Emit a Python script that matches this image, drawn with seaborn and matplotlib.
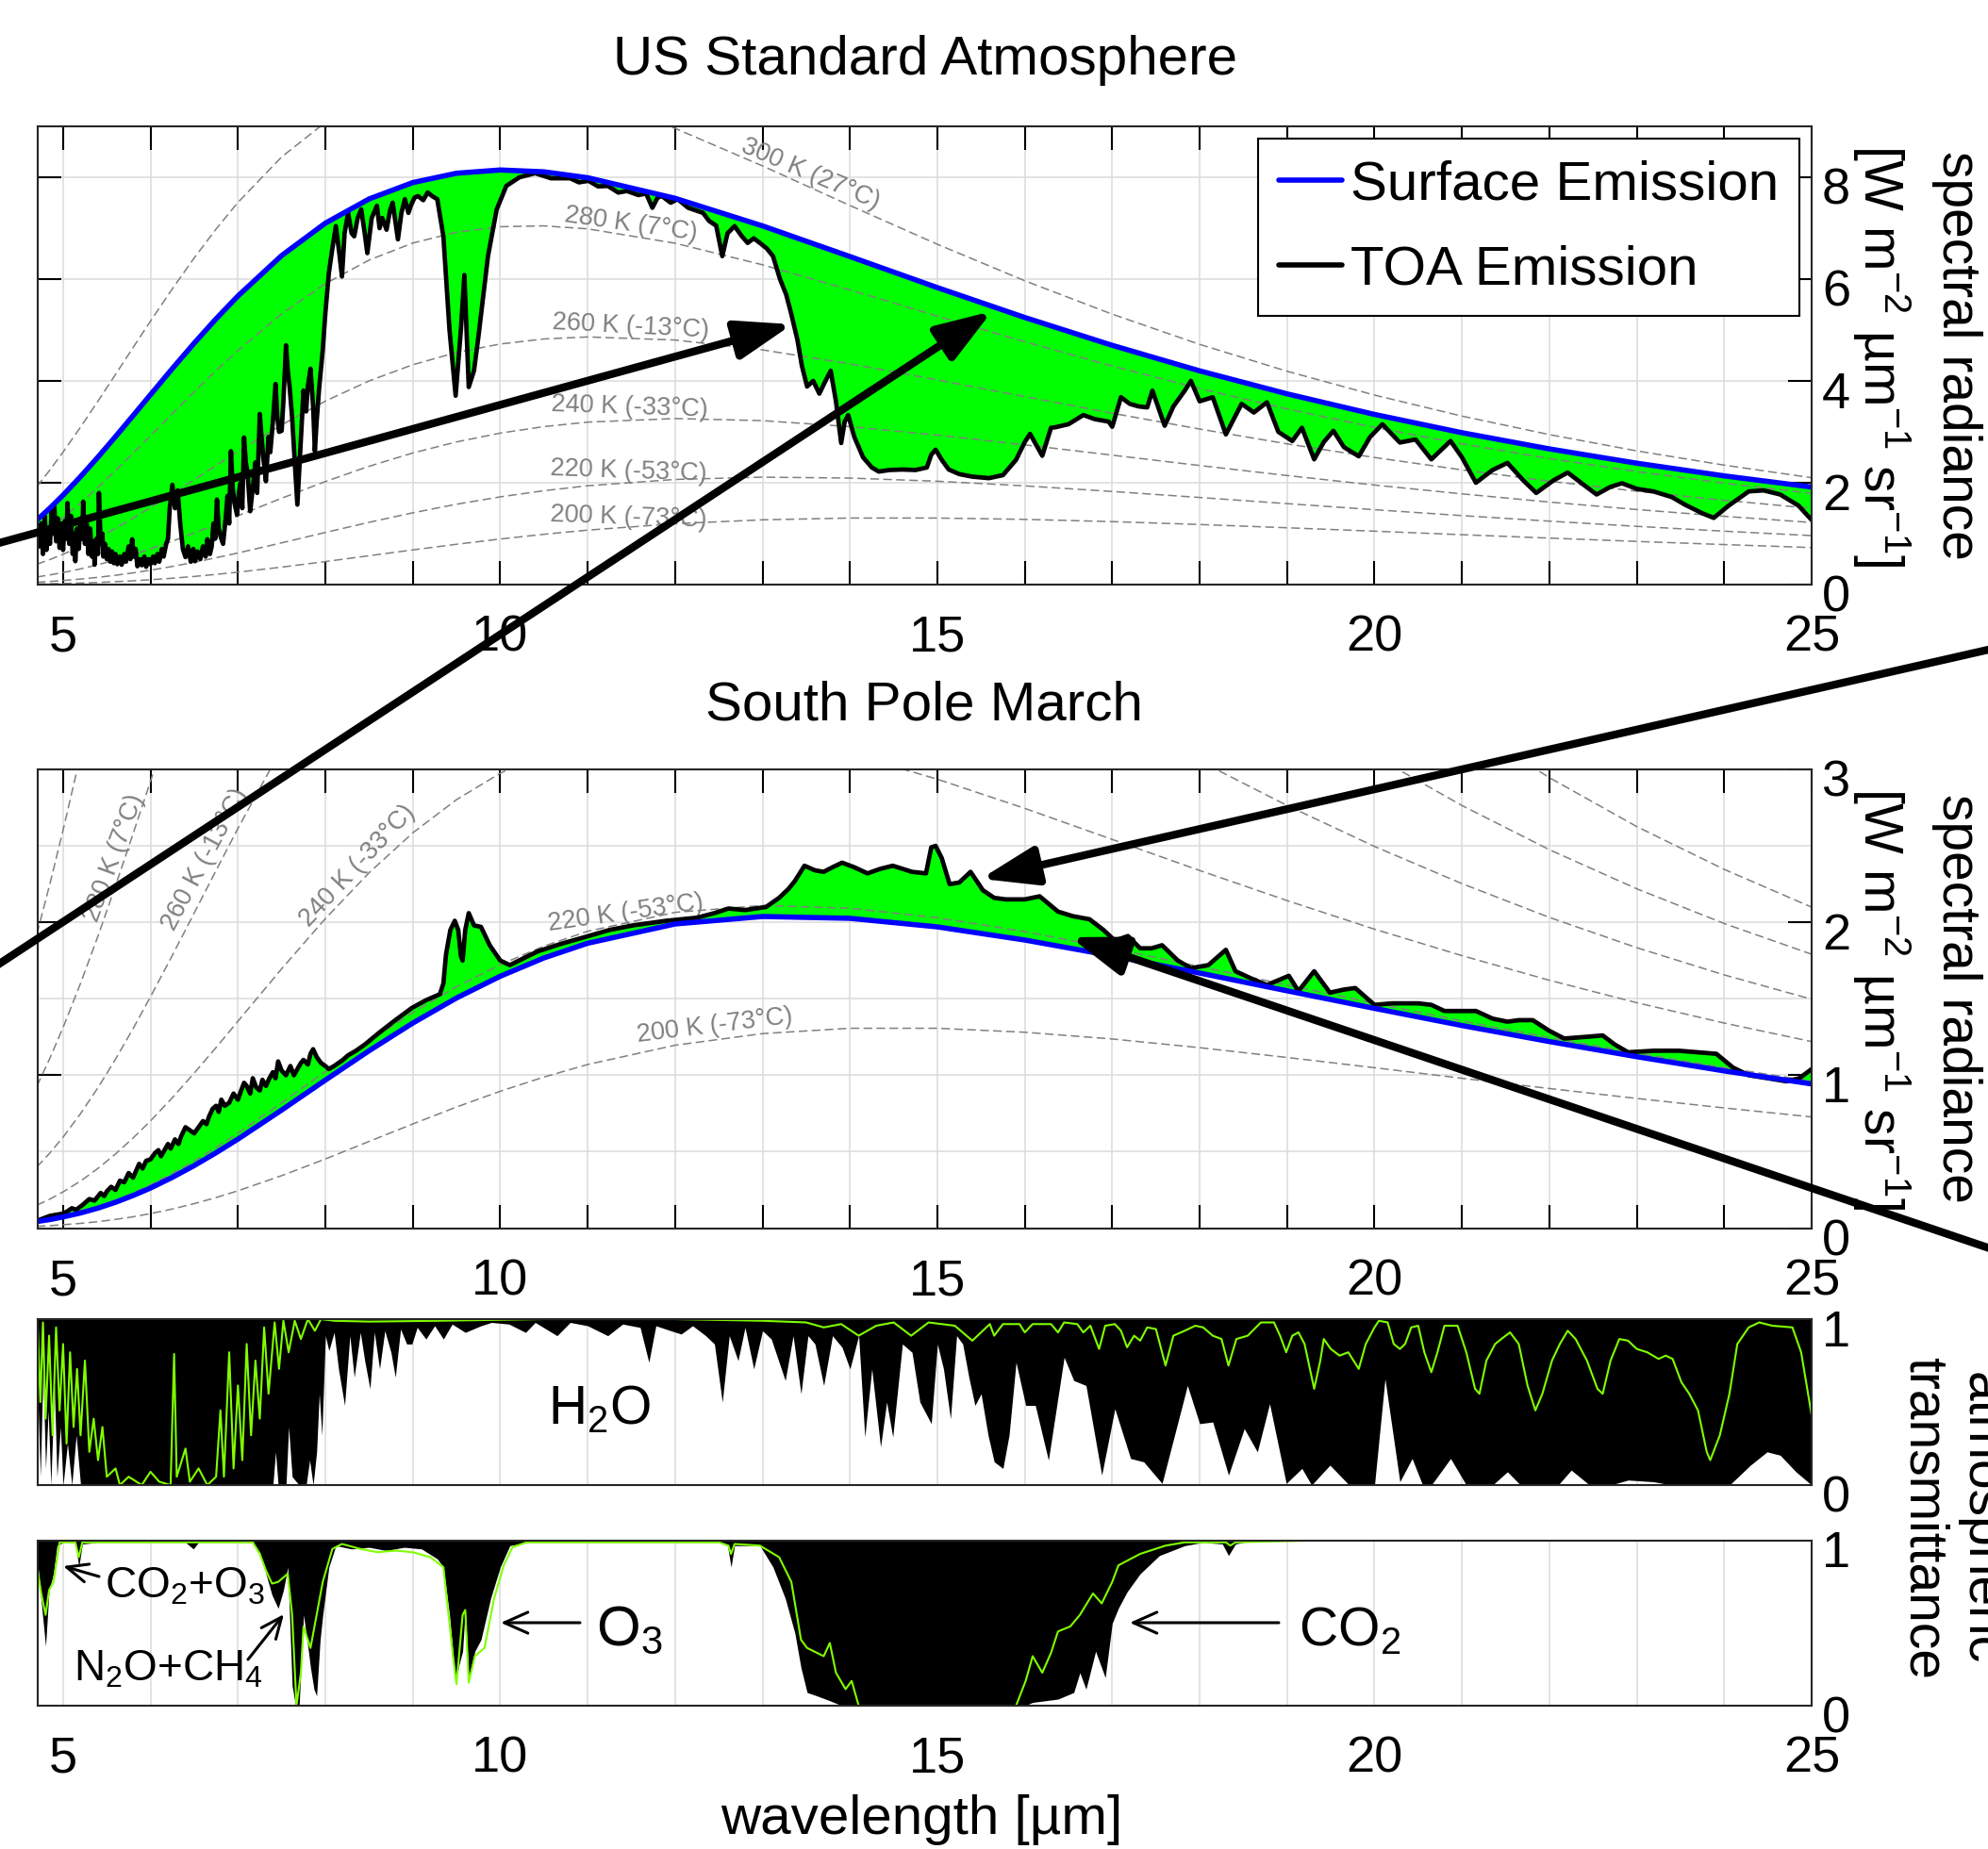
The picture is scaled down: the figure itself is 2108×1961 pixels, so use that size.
import numpy as np
import matplotlib
matplotlib.use("Agg")
import matplotlib.pyplot as plt
import seaborn as sns
from matplotlib.patches import FancyArrowPatch
from matplotlib.lines import Line2D
from matplotlib.ticker import MultipleLocator
from matplotlib.transforms import ScaledTranslation

# ---------------- data ----------------
bb_wavelength = [4.7, 4.85, 5.0, 5.2, 5.4, 5.6, 5.8, 6.0, 6.25, 6.5, 6.75, 7.0, 7.5, 8.0, 8.5, 9.0, 9.5, 10, 10.5, 11,
                 12, 13, 14, 15, 16, 17, 18, 19, 20, 21, 22, 23, 24, 25]
bb_200K = [0.012, 0.016, 0.022, 0.031, 0.042, 0.057, 0.074, 0.095, 0.125, 0.160, 0.200, 0.244, 0.343, 0.452, 0.567, 0.681, 0.792, 0.895, 0.988, 1.070,
           1.196, 1.272, 1.307, 1.307, 1.281, 1.237, 1.180, 1.116, 1.049, 0.980, 0.913, 0.848, 0.786, 0.727]
bb_220K = [0.047, 0.062, 0.080, 0.108, 0.143, 0.183, 0.230, 0.283, 0.357, 0.438, 0.527, 0.621, 0.820, 1.024, 1.223, 1.410, 1.578, 1.723, 1.844, 1.941,
           2.065, 2.110, 2.092, 2.030, 1.939, 1.829, 1.711, 1.590, 1.471, 1.355, 1.246, 1.144, 1.049, 0.962]
bb_240K = [0.150, 0.190, 0.237, 0.308, 0.391, 0.485, 0.589, 0.701, 0.853, 1.014, 1.181, 1.353, 1.696, 2.024, 2.324, 2.585, 2.802, 2.975, 3.103, 3.191,
           3.261, 3.220, 3.102, 2.936, 2.745, 2.542, 2.339, 2.142, 1.955, 1.782, 1.621, 1.474, 1.341, 1.220]
bb_260K = [0.400, 0.492, 0.595, 0.749, 0.919, 1.105, 1.304, 1.513, 1.784, 2.061, 2.339, 2.614, 3.137, 3.604, 4.000, 4.318, 4.559, 4.725, 4.824, 4.864,
           4.804, 4.610, 4.336, 4.020, 3.691, 3.366, 3.055, 2.764, 2.496, 2.253, 2.032, 1.834, 1.656, 1.497]
bb_280K = [0.928, 1.112, 1.312, 1.601, 1.911, 2.239, 2.578, 2.923, 3.358, 3.787, 4.203, 4.599, 5.316, 5.911, 6.374, 6.708, 6.921, 7.029, 7.045, 6.987,
           6.705, 6.281, 5.787, 5.273, 4.769, 4.292, 3.851, 3.449, 3.087, 2.764, 2.475, 2.219, 1.992, 1.791]
bb_300K = [1.923, 2.253, 2.603, 3.094, 3.605, 4.128, 4.654, 5.175, 5.810, 6.416, 6.983, 7.506, 8.399, 9.078, 9.549, 9.830, 9.946, 9.924, 9.792, 9.573,
           8.961, 8.223, 7.446, 6.684, 5.967, 5.311, 4.718, 4.190, 3.722, 3.309, 2.946, 2.626, 2.346, 2.099]
surface_us = [1.266, 1.503, 1.757, 2.121, 2.506, 2.907, 3.317, 3.730, 4.243, 4.742, 5.220, 5.668, 6.462, 7.099, 7.574, 7.896, 8.079, 8.143, 8.107, 7.991,
              7.587, 7.045, 6.443, 5.833, 5.246, 4.699, 4.198, 3.746, 3.342, 2.983, 2.665, 2.384, 2.135, 1.916]
surface_sp = [0.043, 0.056, 0.073, 0.099, 0.131, 0.169, 0.213, 0.262, 0.332, 0.409, 0.493, 0.582, 0.772, 0.968, 1.160, 1.341, 1.505, 1.647, 1.767, 1.863,
              1.989, 2.038, 2.026, 1.970, 1.884, 1.781, 1.668, 1.552, 1.437, 1.325, 1.220, 1.121, 1.028, 0.943]
isotherms = {"200 K (-73°C)": bb_200K, "220 K (-53°C)": bb_220K, "240 K (-33°C)": bb_240K,
             "260 K (-13°C)": bb_260K, "280 K (7°C)": bb_280K, "300 K (27°C)": bb_300K}

toa_us_wl = [4.71, 4.73, 4.75, 4.77, 4.79, 4.81, 4.83, 4.85, 4.87, 4.89, 4.9, 4.92, 4.94, 4.96, 4.98, 5.0, 5.02, 5.04, 5.05, 5.07,
             5.09, 5.11, 5.13, 5.14, 5.16, 5.18, 5.2, 5.22, 5.23, 5.25, 5.27, 5.29, 5.31, 5.33, 5.35, 5.36, 5.38, 5.4, 5.41, 5.43,
             5.45, 5.46, 5.48, 5.5, 5.52, 5.54, 5.56, 5.58, 5.6, 5.62, 5.65, 5.67, 5.7, 5.72, 5.75, 5.77, 5.79, 5.81, 5.83, 5.85,
             5.88, 5.9, 5.93, 5.95, 5.98, 6.0, 6.03, 6.05, 6.08, 6.1, 6.13, 6.15, 6.18, 6.2, 6.22, 6.25, 6.28, 6.31, 6.34, 6.37,
             6.4, 6.43, 6.46, 6.49, 6.51, 6.54, 6.57, 6.6, 6.63, 6.65, 6.68, 6.7, 6.72, 6.74, 6.76, 6.78, 6.8, 6.83, 6.86, 6.88,
             6.9, 6.92, 6.94, 6.96, 6.99, 7.01, 7.03, 7.05, 7.07, 7.09, 7.11, 7.14, 7.17, 7.2, 7.22, 7.25, 7.27, 7.29, 7.32, 7.35,
             7.37, 7.4, 7.43, 7.45, 7.47, 7.5, 7.52, 7.55, 7.57, 7.59, 7.62, 7.65, 7.68, 7.7, 7.72, 7.75, 7.78, 7.8, 7.83, 7.86,
             7.88, 7.9, 7.93, 7.97, 8.0, 8.04, 8.08, 8.12, 8.16, 8.19, 8.22, 8.26, 8.3, 8.33, 8.37, 8.41, 8.45, 8.48, 8.53, 8.59,
             8.62, 8.65, 8.7, 8.74, 8.77, 8.83, 8.87, 8.91, 8.95, 8.98, 9.02, 9.06, 9.12, 9.17, 9.23, 9.28, 9.35, 9.42, 9.49, 9.55,
             9.59, 9.64, 9.7, 9.75, 9.86, 9.96, 10.07, 10.22, 10.4, 10.58, 10.8, 10.9, 11.01, 11.12, 11.23, 11.35, 11.45, 11.58, 11.67, 11.74,
             11.8, 11.85, 11.95, 12.03, 12.15, 12.25, 12.32, 12.39, 12.47, 12.54, 12.6, 12.68, 12.76, 12.83, 12.9, 12.97, 13.05, 13.12, 13.2, 13.27,
             13.33, 13.4, 13.45, 13.51, 13.58, 13.65, 13.72, 13.78, 13.84, 13.9, 13.94, 13.98, 14.05, 14.15, 14.25, 14.33, 14.45, 14.6, 14.75, 14.88,
             14.93, 14.98, 15.05, 15.13, 15.25, 15.4, 15.59, 15.75, 15.9, 16.0, 16.06, 16.2, 16.3, 16.35, 16.5, 16.67, 16.8, 16.96, 17.0, 17.1,
             17.2, 17.3, 17.4, 17.46, 17.6, 17.7, 17.83, 17.9, 18.0, 18.15, 18.3, 18.48, 18.62, 18.77, 18.9, 19.06, 19.17, 19.31, 19.42, 19.53,
             19.65, 19.82, 19.95, 20.09, 20.29, 20.47, 20.65, 20.87, 21.0, 21.16, 21.35, 21.52, 21.7, 21.85, 22.05, 22.21, 22.4, 22.54, 22.7, 22.83,
             23.0, 23.19, 23.4, 23.55, 23.75, 23.88, 24.05, 24.28, 24.45, 24.64, 24.85, 25.0]
toa_us = [1.11, 0.75, 1.2, 0.6, 1.35, 0.68, 1.1, 0.8, 1.45, 1.0, 1.53, 0.85, 1.3, 0.72, 1.2, 0.68, 1.25, 0.9, 1.6, 0.8,
          1.35, 0.6, 1.0, 0.46, 1.1, 0.7, 1.3, 0.9, 1.63, 0.8, 1.2, 0.6, 1.1, 0.55, 0.85, 0.39, 0.9, 0.6, 1.8, 0.8,
          1.0, 0.55, 0.8, 0.5, 0.7, 0.45, 0.65, 0.42, 0.6, 0.4, 0.55, 0.39, 0.6, 0.45, 0.75, 0.5, 0.89, 0.55, 0.7, 0.36,
          0.5, 0.38, 0.55, 0.35, 0.5, 0.4, 0.55, 0.42, 0.6, 0.45, 0.7, 0.55, 0.8, 0.9, 1.5, 1.96, 1.5, 1.85, 1.2, 0.7,
          0.54, 0.75, 0.45, 0.7, 0.46, 0.65, 0.5, 0.75, 0.55, 0.89, 0.6, 0.75, 1.2, 0.9, 1.67, 1.1, 0.95, 0.8, 1.3, 1.74,
          1.2, 2.62, 1.9, 1.6, 1.37, 1.8, 2.0, 1.5, 2.89, 2.4, 2.2, 1.44, 1.9, 2.4, 1.8, 3.35, 2.9, 2.5, 2.03, 2.9,
          2.6, 3.2, 3.94, 3.3, 3.0, 3.02, 3.6, 4.7, 4.2, 3.9, 3.28, 2.4, 1.57, 2.2, 2.8, 3.81, 3.4, 3.9, 4.24, 3.5,
          2.62, 3.2, 3.88, 4.6, 5.33, 6.12, 6.6, 7.04, 6.5, 6.05, 6.9, 7.3, 6.9, 6.84, 7.2, 7.37, 6.9, 6.51, 7.2, 7.44,
          7.0, 7.2, 6.97, 7.35, 7.5, 6.78, 7.3, 7.57, 7.3, 7.45, 7.6, 7.63, 7.55, 7.7, 7.62, 7.57, 6.84, 5.0, 3.71, 5.0,
          6.08, 3.88, 4.2, 4.86, 6.45, 7.37, 7.83, 8.0, 8.08, 7.98, 7.98, 7.9, 7.93, 7.82, 7.83, 7.7, 7.73, 7.65, 7.68, 7.4,
          7.6, 7.63, 7.5, 7.57, 7.4, 7.34, 7.3, 7.14, 7.05, 6.45, 6.9, 7.04, 6.85, 6.71, 6.8, 6.71, 6.6, 6.45, 6.0, 5.7,
          5.31, 4.8, 4.3, 3.89, 4.0, 3.75, 4.0, 4.2, 3.6, 2.78, 3.2, 3.33, 2.9, 2.5, 2.3, 2.22, 2.25, 2.26, 2.25, 2.3,
          2.55, 2.65, 2.45, 2.26, 2.17, 2.12, 2.09, 2.15, 2.45, 2.8, 2.96, 2.53, 3.08, 3.09, 3.15, 3.33, 3.25, 3.2, 3.1, 3.68,
          3.55, 3.5, 3.48, 3.81, 3.12, 3.5, 3.81, 4.0, 3.6, 3.68, 2.95, 3.55, 3.38, 3.58, 3.0, 2.82, 3.08, 2.46, 2.8, 3.02,
          2.7, 2.52, 2.9, 3.15, 2.79, 2.85, 2.46, 2.82, 2.5, 2.0, 2.25, 2.39, 2.05, 1.8, 2.05, 2.2, 1.95, 1.77, 1.92, 1.99,
          1.88, 1.83, 1.72, 1.57, 1.4, 1.31, 1.55, 1.83, 1.85, 1.77, 1.55, 1.27]

toa_sp_wl = [4.71, 4.85, 5.0, 5.05, 5.1, 5.15, 5.22, 5.26, 5.3, 5.36, 5.43, 5.47, 5.5, 5.55, 5.6, 5.65, 5.7, 5.75, 5.8, 5.87,
             5.91, 5.95, 6.0, 6.05, 6.09, 6.12, 6.15, 6.2, 6.23, 6.28, 6.32, 6.35, 6.4, 6.45, 6.5, 6.55, 6.6, 6.64, 6.67, 6.71,
             6.75, 6.78, 6.81, 6.85, 6.9, 6.95, 7.0, 7.03, 7.07, 7.1, 7.14, 7.17, 7.21, 7.25, 7.28, 7.32, 7.36, 7.4, 7.43, 7.46,
             7.5, 7.55, 7.6, 7.64, 7.68, 7.72, 7.75, 7.8, 7.83, 7.86, 7.9, 7.95, 8.0, 8.04, 8.1, 8.15, 8.2, 8.26, 8.35, 8.45,
             8.62, 8.8, 8.99, 9.15, 9.31, 9.35, 9.38, 9.43, 9.48, 9.52, 9.55, 9.57, 9.6, 9.64, 9.7, 9.78, 9.88, 10.0, 10.11, 10.25,
             10.43, 10.7, 11.01, 11.25, 11.52, 11.9, 12.25, 12.45, 12.61, 12.8, 13.04, 13.19, 13.3, 13.37, 13.48, 13.6, 13.7, 13.8, 13.91, 14.05,
             14.2, 14.35, 14.49, 14.6, 14.71, 14.87, 14.93, 14.98, 15.05, 15.14, 15.25, 15.38, 15.52, 15.65, 15.78, 16.0, 16.17, 16.38, 16.55, 16.74,
             16.9, 17.03, 17.18, 17.32, 17.45, 17.57, 17.75, 17.9, 18.1, 18.3, 18.41, 18.6, 18.77, 19.02, 19.13, 19.31, 19.49, 19.65, 19.78, 20.0,
             20.2, 20.36, 20.5, 20.65, 20.8, 21.0, 21.16, 21.35, 21.52, 21.65, 21.81, 22.0, 22.17, 22.4, 22.61, 22.75, 22.9, 23.2, 23.48, 23.7,
             23.91, 24.1, 24.28, 24.5, 24.71, 24.86, 25.0]
toa_sp = [0.05, 0.08, 0.095, 0.11, 0.13, 0.12, 0.15, 0.17, 0.19, 0.18, 0.23, 0.21, 0.24, 0.27, 0.25, 0.31, 0.3, 0.36, 0.33, 0.42,
          0.39, 0.44, 0.45, 0.49, 0.51, 0.47, 0.5, 0.55, 0.52, 0.58, 0.55, 0.6, 0.66, 0.64, 0.62, 0.66, 0.7, 0.68, 0.73, 0.78,
          0.8, 0.76, 0.84, 0.8, 0.82, 0.88, 0.84, 0.89, 0.95, 0.93, 0.88, 0.98, 0.92, 0.9, 0.97, 0.93, 0.98, 1.02, 0.98, 1.09,
          1.03, 1.0, 1.06, 1.0, 1.04, 1.08, 1.1, 1.07, 1.14, 1.17, 1.12, 1.08, 1.06, 1.04, 1.06, 1.08, 1.1, 1.13, 1.16, 1.2,
          1.28, 1.36, 1.44, 1.49, 1.53, 1.6, 1.79, 1.95, 2.01, 1.95, 1.78, 1.75, 1.95, 2.06, 1.98, 1.97, 1.85, 1.75, 1.72, 1.76,
          1.81, 1.86, 1.91, 1.95, 1.98, 2.01, 2.03, 2.06, 2.09, 2.08, 2.1, 2.16, 2.22, 2.27, 2.37, 2.34, 2.33, 2.36, 2.39, 2.36,
          2.32, 2.35, 2.37, 2.35, 2.33, 2.32, 2.49, 2.5, 2.42, 2.25, 2.26, 2.33, 2.21, 2.16, 2.15, 2.15, 2.17, 2.07, 2.04, 2.02,
          1.95, 1.88, 1.91, 1.83, 1.83, 1.85, 1.75, 1.7, 1.72, 1.82, 1.68, 1.63, 1.59, 1.65, 1.55, 1.68, 1.54, 1.56, 1.57, 1.46,
          1.47, 1.47, 1.47, 1.46, 1.42, 1.42, 1.42, 1.37, 1.35, 1.36, 1.36, 1.29, 1.24, 1.25, 1.26, 1.2, 1.15, 1.16, 1.16, 1.15,
          1.14, 1.05, 1.0, 0.98, 0.96, 0.98, 1.04]

h2o_us_wl = [4.71, 4.74, 4.77, 4.8, 4.83, 4.86, 4.9, 4.93, 4.97, 5.0, 5.05, 5.1, 5.15, 5.2, 5.3, 7.4, 7.43, 7.46, 7.55, 7.58,
             7.62, 7.7, 7.78, 7.82, 7.86, 7.9, 7.93, 7.96, 8.0, 8.04, 8.1, 8.15, 8.22, 8.28, 8.33, 8.4, 8.45, 8.51, 8.56, 8.62,
             8.68, 8.75, 8.8, 8.86, 8.93, 8.99, 9.05, 9.15, 9.25, 9.35, 9.45, 9.6, 9.78, 9.9, 10.1, 10.29, 10.4, 10.65, 10.8, 11.0,
             11.23, 11.4, 11.6, 11.7, 11.78, 11.95, 12.07, 12.2, 12.35, 12.45, 12.54, 12.62, 12.72, 12.8, 12.9, 13.0, 13.1, 13.26, 13.35, 13.44,
             13.52, 13.6, 13.7, 13.8, 13.91, 14.0, 14.1, 14.17, 14.25, 14.35, 14.42, 14.49, 14.6, 14.71, 14.8, 14.93, 15.0, 15.07, 15.15, 15.22,
             15.29, 15.36, 15.43, 15.5, 15.58, 15.65, 15.75, 15.82, 15.9, 16.01, 16.12, 16.27, 16.45, 16.56, 16.7, 16.88, 17.03, 17.21, 17.36, 17.57,
             17.86, 18.0, 18.15, 18.33, 18.51, 18.66, 18.8, 18.99, 19.17, 19.28, 19.49, 19.71, 20.0, 20.12, 20.29, 20.43, 20.55, 20.65, 20.87, 21.05,
             21.35, 21.52, 21.67, 22.1, 22.25, 22.46, 22.7, 22.9, 23.19, 23.4, 24.06, 24.3, 24.49, 24.64, 24.82, 25.0]
h2o_us = [0.55, 0.05, 0.7, 0.1, 0.45, 0.0, 0.6, 0.05, 0.35, 0.0, 0.25, 0.0, 0.3, 0.0, 0.0, 0.0, 0.2, 0.0, 0.0, 0.35,
          0.05, 0.0, 0.0, 0.15, 0.0, 0.2, 0.55, 0.3, 0.9, 0.81, 0.92, 0.7, 0.48, 0.9, 0.65, 0.92, 0.75, 0.58, 0.92, 0.7,
          0.93, 0.8, 0.65, 0.94, 0.85, 0.85, 0.95, 0.88, 0.96, 0.88, 0.97, 0.92, 0.96, 0.98, 0.97, 0.92, 0.98, 0.9, 0.98, 0.96,
          0.9, 0.97, 0.95, 0.74, 0.96, 0.93, 0.91, 0.96, 0.9, 0.85, 0.5, 0.9, 0.75, 0.95, 0.7, 0.93, 0.88, 0.63, 0.9, 0.55,
          0.9, 0.85, 0.6, 0.9, 0.83, 0.7, 0.9, 0.29, 0.7, 0.23, 0.5, 0.29, 0.85, 0.8, 0.5, 0.37, 0.85, 0.7, 0.4, 0.9,
          0.85, 0.65, 0.48, 0.55, 0.3, 0.14, 0.1, 0.3, 0.74, 0.48, 0.48, 0.15, 0.77, 0.63, 0.6, 0.06, 0.46, 0.16, 0.14, 0.01,
          0.6, 0.37, 0.38, 0.06, 0.34, 0.2, 0.49, 0.01, 0.1, 0.0, 0.12, 0.0, 0.0, 0.64, 0.02, 0.16, 0.0, 0.0, 0.16, 0.0,
          0.0, 0.08, 0.0, 0.0, 0.09, 0.0, 0.0, 0.03, 0.02, 0.0, 0.0, 0.12, 0.2, 0.18, 0.08, 0.0]

h2o_sp_wl = [4.71, 4.74, 4.77, 4.8, 4.84, 4.88, 4.92, 4.96, 5.0, 5.04, 5.08, 5.12, 5.16, 5.2, 5.25, 5.3, 5.35, 5.4, 5.45, 5.5,
             5.6, 5.65, 5.75, 5.9, 6.0, 6.1, 6.23, 6.27, 6.3, 6.4, 6.45, 6.55, 6.65, 6.75, 6.8, 6.84, 6.9, 6.95, 7.0, 7.05,
             7.1, 7.15, 7.2, 7.25, 7.3, 7.35, 7.42, 7.47, 7.52, 7.58, 7.65, 7.72, 7.8, 7.88, 7.95, 8.1, 8.5, 9.3, 10.5, 12.0,
             13.0, 13.5, 13.7, 13.9, 14.1, 14.3, 14.5, 14.7, 14.9, 15.2, 15.4, 15.5, 15.6, 15.65, 15.75, 15.94, 16.0, 16.09, 16.3, 16.38,
             16.45, 16.6, 16.67, 16.75, 16.85, 16.92, 17.03, 17.1, 17.17, 17.25, 17.32, 17.4, 17.5, 17.61, 17.7, 17.83, 17.95, 18.04, 18.15, 18.25,
             18.33, 18.42, 18.55, 18.7, 18.85, 18.92, 18.99, 19.06, 19.13, 19.2, 19.31, 19.38, 19.42, 19.5, 19.6, 19.7, 19.82, 19.9, 20.0, 20.05,
             20.15, 20.22, 20.29, 20.35, 20.42, 20.5, 20.57, 20.65, 20.72, 20.8, 20.95, 21.05, 21.15, 21.2, 21.28, 21.38, 21.45, 21.55, 21.65, 21.75,
             21.84, 21.92, 22.03, 22.12, 22.21, 22.3, 22.43, 22.55, 22.61, 22.7, 22.8, 22.9, 23.0, 23.12, 23.25, 23.33, 23.41, 23.51, 23.6, 23.7,
             23.8, 23.84, 23.95, 24.06, 24.15, 24.28, 24.4, 24.55, 24.78, 24.88, 25.0]
h2o_sp = [0.95, 0.5, 0.98, 0.4, 0.9, 0.3, 0.95, 0.45, 0.85, 0.25, 0.8, 0.35, 0.7, 0.3, 0.75, 0.2, 0.4, 0.15, 0.35, 0.05,
          0.1, 0.0, 0.05, 0.0, 0.08, 0.02, 0.0, 0.79, 0.05, 0.22, 0.02, 0.1, 0.0, 0.05, 0.45, 0.05, 0.8, 0.1, 0.6, 0.15,
          0.85, 0.3, 0.75, 0.4, 0.95, 0.55, 0.98, 0.7, 0.99, 0.8, 0.99, 0.88, 1.0, 0.93, 1.0, 0.99, 0.985, 0.99, 1.0, 1.0,
          0.99, 0.98, 0.95, 0.97, 0.9, 0.96, 0.98, 0.9, 0.98, 0.96, 0.87, 0.92, 0.97, 0.9, 0.97, 0.97, 0.92, 0.97, 0.97, 0.92,
          0.98, 0.97, 0.92, 0.96, 0.82, 0.96, 0.97, 0.93, 0.83, 0.9, 0.87, 0.95, 0.94, 0.72, 0.9, 0.93, 0.96, 0.95, 0.9, 0.88,
          0.72, 0.88, 0.9, 0.98, 0.98, 0.9, 0.8, 0.9, 0.92, 0.85, 0.58, 0.75, 0.88, 0.82, 0.78, 0.8, 0.7, 0.85, 0.95, 0.99,
          0.98, 0.85, 0.82, 0.85, 0.95, 0.96, 0.8, 0.68, 0.8, 0.96, 0.96, 0.8, 0.58, 0.55, 0.75, 0.85, 0.88, 0.92, 0.85, 0.6,
          0.45, 0.55, 0.75, 0.85, 0.93, 0.88, 0.75, 0.58, 0.55, 0.75, 0.88, 0.87, 0.82, 0.8, 0.76, 0.78, 0.76, 0.62, 0.55, 0.45,
          0.2, 0.15, 0.3, 0.55, 0.85, 0.95, 0.98, 0.96, 0.95, 0.8, 0.42]

gas_us_wl = [4.71, 4.75, 4.8, 4.84, 4.89, 4.93, 5.0, 5.14, 5.18, 5.22, 5.4, 6.4, 6.49, 6.55, 7.17, 7.25, 7.32, 7.39, 7.46, 7.52,
             7.57, 7.62, 7.66, 7.7, 7.75, 7.79, 7.83, 7.87, 7.9, 7.94, 7.97, 8.04, 8.12, 8.3, 8.5, 8.7, 8.9, 9.1, 9.28, 9.35,
             9.42, 9.49, 9.53, 9.57, 9.6, 9.64, 9.71, 9.78, 9.89, 10.0, 10.11, 10.3, 12.5, 12.6, 12.64, 12.68, 12.97, 13.12, 13.26, 13.37,
             13.44, 13.51, 13.62, 13.77, 13.91, 16.0, 16.09, 16.38, 16.56, 16.63, 16.7, 16.81, 16.92, 17.0, 17.07, 17.17, 17.32, 17.54, 17.83, 18.04,
             18.26, 18.33, 18.41, 18.6, 25.0]
gas_us = [0.86, 0.63, 0.36, 0.7, 0.8, 0.97, 0.99, 0.99, 0.84, 0.98, 0.99, 0.99, 0.95, 0.99, 0.99, 0.93, 0.8, 0.67, 0.59, 0.7,
          0.84, 0.12, 0.0, 0.0, 0.55, 0.4, 0.23, 0.1, 0.06, 0.4, 0.55, 0.84, 0.97, 0.95, 0.96, 0.94, 0.96, 0.95, 0.89, 0.84,
          0.55, 0.14, 0.25, 0.33, 0.59, 0.17, 0.33, 0.4, 0.65, 0.84, 0.97, 0.99, 0.99, 0.97, 0.84, 0.97, 0.97, 0.84, 0.65, 0.44,
          0.23, 0.08, 0.06, 0.03, 0.0, 0.0, 0.02, 0.04, 0.08, 0.2, 0.1, 0.33, 0.17, 0.5, 0.59, 0.69, 0.8, 0.91, 0.97, 0.99,
          0.98, 0.91, 0.98, 1.0, 1.0]

gas_sp_wl = [4.71, 4.75, 4.8, 4.84, 4.89, 4.96, 5.14, 5.18, 5.22, 7.17, 7.25, 7.32, 7.39, 7.46, 7.57, 7.62, 7.67, 7.72, 7.75, 7.83,
             7.9, 7.97, 8.08, 8.19, 8.4, 8.6, 8.8, 9.0, 9.2, 9.35, 9.46, 9.5, 9.57, 9.6, 9.64, 9.71, 9.82, 9.93, 10.04, 10.14,
             10.3, 12.5, 12.61, 12.64, 12.68, 12.97, 13.19, 13.33, 13.44, 13.51, 13.7, 13.77, 13.84, 13.95, 14.02, 14.1, 15.9, 16.01, 16.09, 16.2,
             16.3, 16.38, 16.52, 16.63, 16.78, 16.88, 17.0, 17.07, 17.14, 17.32, 17.61, 17.83, 18.3, 18.35, 18.41, 19.2]
gas_sp = [0.82, 0.68, 0.55, 0.7, 0.75, 0.99, 0.99, 0.9, 0.99, 0.99, 0.92, 0.82, 0.74, 0.75, 0.8, 0.55, 0.0, 0.2, 0.48, 0.35,
          0.55, 0.75, 0.95, 0.98, 0.95, 0.93, 0.94, 0.93, 0.9, 0.84, 0.3, 0.13, 0.55, 0.58, 0.14, 0.3, 0.35, 0.65, 0.85, 0.96,
          0.99, 0.99, 0.97, 0.92, 0.98, 0.97, 0.9, 0.75, 0.4, 0.35, 0.3, 0.38, 0.2, 0.1, 0.15, 0.0, 0.0, 0.15, 0.3, 0.2,
          0.32, 0.45, 0.48, 0.55, 0.68, 0.62, 0.75, 0.85, 0.87, 0.92, 0.97, 0.99, 0.99, 0.97, 0.99, 1.0]

x_ticks = list(range(5, 26))
x_ticklabels = [str(v) if v % 5 == 0 else "" for v in x_ticks]

# ---------------- style ----------------
sns.set_theme(style="white", rc={"text.color": "black", "axes.labelcolor": "black"})
plt.rcParams["font.family"] = ["Liberation Sans", "DejaVu Sans"]
plt.rcParams["mathtext.fontset"] = "custom"
plt.rcParams["mathtext.rm"] = "Liberation Sans"
plt.rcParams["mathtext.it"] = "Liberation Sans:italic"
plt.rcParams["mathtext.bf"] = "Liberation Sans:bold"

W, H = 2108, 1961
fig = plt.figure(figsize=(W / 100, H / 100), dpi=100)
fig.patch.set_facecolor("white")


def box(top, bottom, left=40, right=1921):
    return [left / W, 1 - bottom / H, (right - left) / W, (bottom - top) / H]


ax1 = fig.add_axes(box(134, 620))
ax2 = fig.add_axes(box(816, 1302.5))
ax3 = fig.add_axes(box(1399, 1575))
ax4 = fig.add_axes(box(1634, 1809))

GREEN = "#00ff00"
LIME = "#80ff00"
GRAY = "0.5"


def common(ax, ymax, yticks, ticklen, xlabels):
    ax.set_xlim(4.71, 25)
    ax.set_ylim(0, ymax)
    ax.set_xticks(x_ticks)
    ax.set_xticklabels(x_ticklabels if xlabels else [""] * len(x_ticks))
    ax.set_yticks(yticks)
    ax.set_yticklabels([str(v) for v in yticks])
    ax.tick_params(axis="x", which="major", direction="in", length=ticklen, width=1.5, top=True, bottom=True,
                   labelsize=39, pad=23, colors="black")
    ax.tick_params(axis="y", which="major", direction="in", length=ticklen, width=1.5, left=True, right=True,
                   labelleft=False, labelright=True, labelsize=39, pad=8, colors="black")
    ax.tick_params(which="minor", length=0)
    ax.set_axisbelow(True)
    ax.grid(True, axis="x", which="major", color="0.86", lw=1.1)
    for s in ax.spines.values():
        s.set_color("0.15")
        s.set_linewidth(1.5)
        s.set_zorder(6)
    ax.set_xlabel("")
    ax.set_ylabel("")


def radiance_panel(ax, toa_wl, toa, surf, labels):
    # green area between surface and TOA emission
    ax.fill(np.r_[toa_wl, bb_wavelength[::-1]], np.r_[toa, surf[::-1]], color=GREEN, lw=0, zorder=1)
    for name, vals in isotherms.items():
        sns.lineplot(x=bb_wavelength, y=vals, ax=ax, color=GRAY, linewidth=1.1, estimator=None, zorder=2)
        ax.lines[-1].set_dashes([6, 3])
    for name, (lx, ly, rot) in labels.items():
        ax.text(lx, ly, name, color=GRAY, fontsize=19.5, rotation=rot, ha="center", va="center",
                rotation_mode="anchor", zorder=2.5)
    sns.lineplot(x=toa_wl, y=toa, ax=ax, color="black", linewidth=3.4, estimator=None, zorder=3)
    sns.lineplot(x=bb_wavelength, y=surf, ax=ax, color="blue", linewidth=4.0, estimator=None, zorder=4)


radiance_panel(ax1, toa_us_wl, toa_us, surface_us,
               {"300 K (27°C)": (13.55, 8.06, -23), "280 K (7°C)": (11.5, 7.07, -8),
                "260 K (-13°C)": (11.49, 5.06, -3), "240 K (-33°C)": (11.48, 3.48, -2),
                "220 K (-53°C)": (11.47, 2.22, -2), "200 K (-73°C)": (11.47, 1.31, -2)})
radiance_panel(ax2, toa_sp_wl, toa_sp, surface_sp,
               {"280 K (7°C)": (5.58, 2.42, 70), "260 K (-13°C)": (6.63, 2.41, 62),
                "240 K (-33°C)": (8.37, 2.37, 47), "220 K (-53°C)": (11.44, 2.06, 8),
                "200 K (-73°C)": (12.45, 1.32, 7)})

common(ax1, 9, [0, 2, 4, 6, 8], 18, True)
ax1.grid(True, axis="y", which="major", color="0.86", lw=1.1)
common(ax2, 3, [0, 1, 2, 3], 18, True)
ax2.yaxis.set_minor_locator(MultipleLocator(0.5))
ax2.grid(True, axis="y", which="both", color="0.86", lw=1.1)

leg = ax1.legend(handles=[Line2D([], [], color="blue", lw=4.0), Line2D([], [], color="black", lw=4.0)],
                 labels=["Surface Emission", "TOA Emission"], loc="upper right", fontsize=42,
                 frameon=True, fancybox=False, edgecolor="black", framealpha=1, handlelength=1.15,
                 handletextpad=0.15, labelspacing=0.62, borderpad=0.38, borderaxespad=0.22)
leg.get_frame().set_linewidth(1.5)
leg.set_zorder(10)

# transmittance panels
ax3.fill_between(h2o_us_wl, h2o_us, 1, color="black", lw=0, zorder=1)
sns.lineplot(x=h2o_sp_wl, y=h2o_sp, ax=ax3, color=LIME, linewidth=1.5, estimator=None, zorder=2)
ax4.fill_between(gas_us_wl, gas_us, 1, color="black", lw=0, zorder=1)
sns.lineplot(x=gas_sp_wl, y=gas_sp, ax=ax4, color=LIME, linewidth=1.5, estimator=None, zorder=2)
common(ax3, 1, [0, 1], 0, False)
common(ax4, 1, [0, 1], 0, True)
for ax in (ax3, ax4):
    ax.tick_params(axis="x", which="major", top=False)

# shift right-hand tick labels slightly down, as in the reference
off = ScaledTranslation(0, -9 / 100, fig.dpi_scale_trans)
for ax in (ax1, ax2, ax3, ax4):
    for lab in ax.get_yticklabels():
        lab.set_transform(lab.get_transform() + off)

fig.text(581 / W, 1 - 1510 / H, r"H$_2$O", fontsize=41, ha="left", va="baseline")
fig.text(632 / W, 1 - 1745 / H, r"O$_3$", fontsize=43, ha="left", va="baseline")
fig.text(1377 / W, 1 - 1745 / H, r"CO$_2$", fontsize=41, ha="left", va="baseline")
fig.text(111 / W, 1 - 1695 / H, r"CO$_2$+O$_3$", fontsize=33, ha="left", va="baseline")
fig.text(78 / W, 1 - 1782 / H, r"N$_2$O+CH$_4$", fontsize=33, ha="left", va="baseline")

# titles and axis labels
fig.text(981 / W, 1 - 64 / H, "US Standard Atmosphere", fontsize=42, ha="center", va="center")
fig.text(980 / W, 1 - 748 / H, "South Pole March", fontsize=42, ha="center", va="center")
fig.text(977 / W, 1 - 1930 / H, "wavelength [µm]", fontsize=42, ha="center", va="center")
for yc in (377, 1059):
    fig.text(2075 / W, 1 - yc / H, "spectral radiance", fontsize=41, rotation=270, ha="center", va="center")
    fig.text(1995 / W, 1 - yc / H, r"[W m$^{-2}$ µm$^{-1}$ sr$^{-1}$]", fontsize=41, rotation=270,
             ha="center", va="center")
fig.text(2040 / W, 1 - 1610 / H, "transmittance", fontsize=41, rotation=270, ha="center", va="center")
fig.text(2101 / W, 1 - 1610 / H, "atmospheric", fontsize=41, rotation=270, ha="center", va="center")


def fig_arrow(p0, p1, lw, hl, hw, style="-|>"):
    a = FancyArrowPatch((p0[0] / W, 1 - p0[1] / H), (p1[0] / W, 1 - p1[1] / H), transform=fig.transFigure,
                        arrowstyle=f"{style},head_length={hl},head_width={hw}", mutation_scale=1, lw=lw,
                        color="black", shrinkA=0, shrinkB=0, zorder=20, clip_on=False)
    fig.add_artist(a)


# big arrows
fig_arrow((-5, 577), (840, 344), 6.0, 36, 12.5)
fig_arrow((-5, 1025), (1052, 330), 6.0, 36, 12.5)
fig_arrow((2113, 688), (1040, 932), 6.0, 36, 12.5)
fig_arrow((2113, 1325), (1135, 994), 6.0, 36, 12.5)
# small annotation arrows
fig_arrow((105, 1672), (67, 1661), 2.2, 16, 7, "->")
fig_arrow((263, 1760), (301, 1712), 2.2, 16, 7, "->")
fig_arrow((615, 1721), (531, 1721), 2.2, 18, 8, "->")
fig_arrow((1356, 1721), (1198, 1721), 2.2, 18, 8, "->")

fig.savefig("out.png", dpi=100)
